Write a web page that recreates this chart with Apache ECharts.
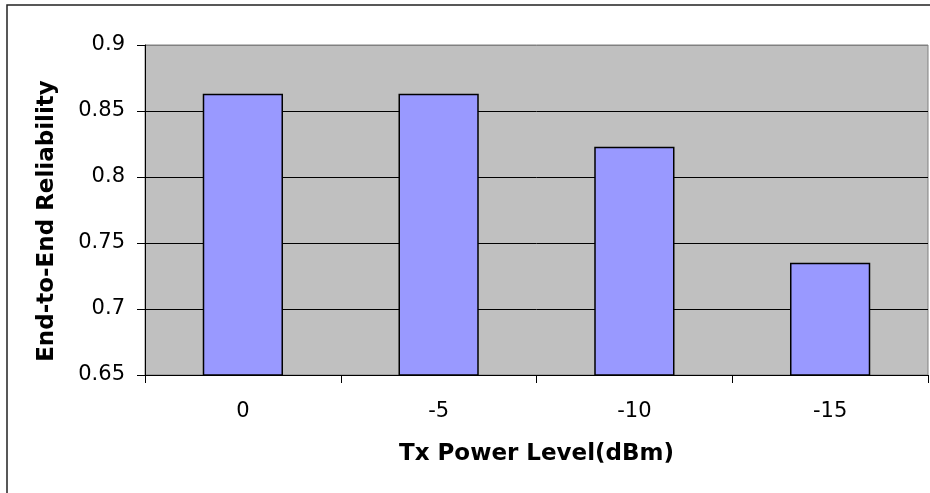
<!DOCTYPE html>
<html>
<head>
<meta charset="utf-8">
<script src="https://cdn.jsdelivr.net/npm/echarts@6/dist/echarts.min.js"></script>
<style>
  html, body { margin: 0; padding: 0; background: #ffffff; }
  #chart { width: 930px; height: 493px; }
</style>
</head>
<body>
<div id="chart"></div>
<script>
// Transmit power levels (dBm) and measured end-to-end reliability
const categories = ['0', '-5', '-10', '-15'];
const reliability = [0.863, 0.863, 0.823, 0.735];
const yTicks = { min: 0.65, max: 0.9, step: 0.05 };

const chart = echarts.init(document.getElementById('chart'), null, { renderer: 'canvas' });

const option = {
  animation: false,
  backgroundColor: '#ffffff',
  grid: {
    left: 145, right: 2, top: 45, bottom: 118,
    show: true,
    backgroundColor: '#C0C0C0',
    borderColor: '#808080',
    borderWidth: 1
  },
  xAxis: {
    type: 'category',
    data: categories,
    name: 'Tx Power Level(dBm)',
    nameLocation: 'middle',
    nameGap: 68,
    nameTextStyle: { fontFamily: 'DejaVu Sans', fontWeight: 'bold', fontSize: 23, color: '#000' },
    axisLine: { lineStyle: { color: '#000', width: 1 } },
    axisTick: { show: true, length: 8, lineStyle: { color: '#000' } },
    axisLabel: { margin: 26, fontFamily: 'DejaVu Sans', fontSize: 21, color: '#000' },
    splitLine: { show: false }
  },
  yAxis: {
    type: 'value',
    min: yTicks.min,
    max: yTicks.max,
    interval: yTicks.step,
    name: 'End-to-End Reliability',
    nameLocation: 'middle',
    nameGap: 86,
    nameTextStyle: {
      fontFamily: 'DejaVu Sans', fontWeight: 'bold', fontSize: 23, color: '#000',
      padding: [0, 22, 0, 0]
    },
    axisLine: { show: true, lineStyle: { color: '#000', width: 1 } },
    axisTick: { show: true, length: 8, lineStyle: { color: '#000' } },
    axisLabel: {
      margin: 20, fontFamily: 'DejaVu Sans', fontSize: 21, color: '#000',
      formatter: v => String(+v.toFixed(2))
    },
    splitLine: {
      show: true,
      lineStyle: { color: ['#000', '#000', '#000', '#000', '#000', '#808080'], width: 1 }
    }
  },
  series: [{
    type: 'bar',
    data: reliability,
    barCategoryGap: '59%',
    itemStyle: { color: '#9999FF', borderColor: '#000', borderWidth: 1.5 }
  }],
  graphic: [{
    type: 'rect',
    shape: { x: 7, y: 5, width: 1000, height: 1000 },
    style: { fill: 'none', stroke: '#222', lineWidth: 1.5 },
    silent: true
  }]
};

chart.setOption(option);
</script>
</body>
</html>
